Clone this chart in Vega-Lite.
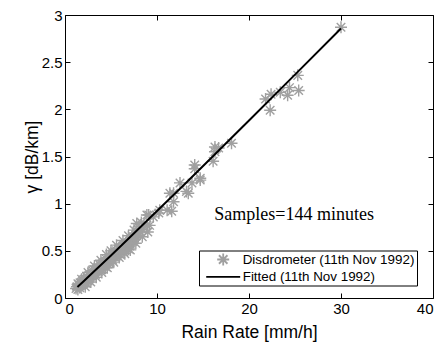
{
  "$schema": "https://vega.github.io/schema/vega-lite/v6.json",
  "width": 368,
  "height": 283,
  "autosize": {"type": "none"},
  "padding": {"left": 65, "top": 15, "right": 7, "bottom": 44},
  "background": "white",
  "config": {
    "view": {"stroke": null},
    "font": "Liberation Sans",
    "axis": {
      "grid": false,
      "domainColor": "#000000",
      "domainWidth": 1,
      "tickColor": "#000000",
      "tickSize": -5,
      "labelColor": "#000000",
      "labelFont": "Liberation Sans",
      "labelFontSize": 15,
      "titleFont": "Liberation Sans",
      "titleFontSize": 17.5,
      "titleFontWeight": "normal",
      "titleColor": "#000000"
    },
    "legend": {
      "title": null,
      "orient": "none",
      "legendX": 134,
      "legendY": 235.5,
      "padding": 2,
      "strokeColor": "#000000",
      "strokeWidth": 1,
      "fillColor": "#ffffff",
      "labelFont": "Liberation Sans",
      "labelFontSize": 13.4,
      "labelColor": "#000000",
      "labelLimit": 400,
      "symbolSize": 144,
      "symbolOffset": 15.2,
      "labelOffset": 12.5,
      "rowPadding": 0.4,
      "symbolStrokeWidth": 1.8
    }
  },
  "datasets": {
    "disdro": [
      {"R": 1.2, "g": 0.10}, {"R": 1.3, "g": 0.12}, {"R": 1.4, "g": 0.09}, {"R": 1.5, "g": 0.14},
      {"R": 1.6, "g": 0.11}, {"R": 1.7, "g": 0.16}, {"R": 1.8, "g": 0.13}, {"R": 1.9, "g": 0.18},
      {"R": 2.0, "g": 0.15}, {"R": 2.1, "g": 0.20}, {"R": 2.2, "g": 0.17}, {"R": 2.3, "g": 0.19},
      {"R": 2.4, "g": 0.22}, {"R": 2.5, "g": 0.18}, {"R": 2.6, "g": 0.24}, {"R": 2.7, "g": 0.21},
      {"R": 2.8, "g": 0.23}, {"R": 2.9, "g": 0.27}, {"R": 3.0, "g": 0.24}, {"R": 3.1, "g": 0.26},
      {"R": 3.2, "g": 0.30}, {"R": 3.3, "g": 0.25}, {"R": 3.4, "g": 0.29}, {"R": 3.5, "g": 0.32},
      {"R": 3.6, "g": 0.28}, {"R": 3.7, "g": 0.31}, {"R": 3.8, "g": 0.35}, {"R": 3.9, "g": 0.30},
      {"R": 4.0, "g": 0.33}, {"R": 4.1, "g": 0.37}, {"R": 4.2, "g": 0.34}, {"R": 4.3, "g": 0.38},
      {"R": 4.4, "g": 0.33}, {"R": 4.5, "g": 0.41}, {"R": 4.6, "g": 0.36}, {"R": 4.7, "g": 0.40},
      {"R": 4.8, "g": 0.43}, {"R": 4.9, "g": 0.38}, {"R": 5.0, "g": 0.42}, {"R": 5.1, "g": 0.46},
      {"R": 5.2, "g": 0.40}, {"R": 5.3, "g": 0.44}, {"R": 5.4, "g": 0.49}, {"R": 5.5, "g": 0.43},
      {"R": 5.7, "g": 0.47}, {"R": 5.8, "g": 0.52}, {"R": 6.0, "g": 0.46}, {"R": 6.1, "g": 0.50},
      {"R": 6.3, "g": 0.55}, {"R": 6.4, "g": 0.49}, {"R": 6.6, "g": 0.53}, {"R": 6.8, "g": 0.58},
      {"R": 6.9, "g": 0.52}, {"R": 7.1, "g": 0.57}, {"R": 7.2, "g": 0.61}, {"R": 7.4, "g": 0.60},
      {"R": 7.5, "g": 0.64}, {"R": 7.7, "g": 0.66}, {"R": 7.9, "g": 0.68}, {"R": 8.0, "g": 0.72},
      {"R": 8.2, "g": 0.70}, {"R": 7.8, "g": 0.79}, {"R": 8.9, "g": 0.77}, {"R": 8.9, "g": 0.88},
      {"R": 9.2, "g": 0.77}, {"R": 9.6, "g": 0.86}, {"R": 9.1, "g": 0.88}, {"R": 10.2, "g": 0.90},
      {"R": 10.3, "g": 0.93}, {"R": 11.1, "g": 0.93}, {"R": 11.6, "g": 0.92}, {"R": 11.8, "g": 1.02},
      {"R": 11.4, "g": 1.11}, {"R": 11.8, "g": 1.11}, {"R": 12.5, "g": 1.22}, {"R": 13.2, "g": 1.13},
      {"R": 13.4, "g": 1.11}, {"R": 13.8, "g": 1.22}, {"R": 14.1, "g": 1.37}, {"R": 14.1, "g": 1.41},
      {"R": 14.7, "g": 1.27}, {"R": 14.7, "g": 1.25}, {"R": 16.1, "g": 1.45}, {"R": 16.3, "g": 1.55},
      {"R": 16.3, "g": 1.60}, {"R": 16.7, "g": 1.59}, {"R": 18.1, "g": 1.64}, {"R": 21.8, "g": 2.11},
      {"R": 22.3, "g": 1.99}, {"R": 22.4, "g": 2.16}, {"R": 23.4, "g": 2.18}, {"R": 24.2, "g": 2.15},
      {"R": 24.4, "g": 2.23}, {"R": 25.4, "g": 2.20}, {"R": 25.3, "g": 2.36}, {"R": 30.0, "g": 2.87},
      {"R": 1.4, "g": 0.15}, {"R": 1.6, "g": 0.13}, {"R": 2.0, "g": 0.19}, {"R": 2.3, "g": 0.16},
      {"R": 2.6, "g": 0.20}, {"R": 3.0, "g": 0.29}, {"R": 3.3, "g": 0.28}, {"R": 3.6, "g": 0.33},
      {"R": 4.0, "g": 0.30}, {"R": 4.4, "g": 0.39}, {"R": 4.8, "g": 0.37}, {"R": 5.2, "g": 0.47},
      {"R": 5.6, "g": 0.50}, {"R": 6.2, "g": 0.52}, {"R": 6.6, "g": 0.58}, {"R": 7.0, "g": 0.55},
      {"R": 7.3, "g": 0.66}, {"R": 7.6, "g": 0.62}, {"R": 8.4, "g": 0.73}, {"R": 8.6, "g": 0.76},
      {"R": 1.8, "g": 0.20}, {"R": 2.5, "g": 0.27}, {"R": 3.2, "g": 0.34}, {"R": 3.9, "g": 0.40},
      {"R": 4.5, "g": 0.46}, {"R": 5.0, "g": 0.50}, {"R": 5.6, "g": 0.56}, {"R": 6.3, "g": 0.61},
      {"R": 6.9, "g": 0.66}, {"R": 7.5, "g": 0.72}, {"R": 8.3, "g": 0.80},
      {"R": 2.2, "g": 0.12}, {"R": 2.8, "g": 0.17}, {"R": 3.4, "g": 0.22}, {"R": 4.0, "g": 0.27},
      {"R": 4.6, "g": 0.32}, {"R": 5.3, "g": 0.38}, {"R": 5.9, "g": 0.43}, {"R": 6.5, "g": 0.47},
      {"R": 7.1, "g": 0.51}, {"R": 7.7, "g": 0.58}, {"R": 8.4, "g": 0.65}, {"R": 9.0, "g": 0.70}
    ],
    "fit": [
      {"R": 1.35, "g": 0.117}, {"R": 2, "g": 0.176}, {"R": 3, "g": 0.267}, {"R": 5, "g": 0.451},
      {"R": 7, "g": 0.638}, {"R": 10, "g": 0.922}, {"R": 13, "g": 1.205}, {"R": 16, "g": 1.495},
      {"R": 20, "g": 1.882}, {"R": 25, "g": 2.368}, {"R": 30, "g": 2.857}
    ]
  },
  "resolve": {"axis": {"x": "independent", "y": "independent"}},
  "layer": [
    {
      "data": {"name": "disdro"},
      "transform": [{"calculate": "'Disdrometer (11th Nov 1992)'", "as": "series"}],
      "mark": {"type": "point", "filled": false, "size": 144, "strokeWidth": 1.4, "opacity": 1},
      "encoding": {
        "x": {
          "field": "R", "type": "quantitative",
          "scale": {"domain": [0, 40], "nice": false},
          "axis": {"orient": "bottom", "values": [0, 10, 20, 30, 40], "title": "Rain Rate [mm/h]", "labelPadding": 8, "titlePadding": 7}
        },
        "y": {
          "field": "g", "type": "quantitative",
          "scale": {"domain": [0, 3], "nice": false},
          "axis": {"orient": "left", "values": [0, 0.5, 1, 1.5, 2, 2.5, 3], "format": "~g", "title": "γ [dB/km]", "labelPadding": 8, "titlePadding": 0}
        },
        "color": {
          "field": "series", "type": "nominal",
          "scale": {"domain": ["Disdrometer (11th Nov 1992)", "Fitted (11th Nov 1992)"], "range": ["#a0a0a0", "#000000"]}
        },
        "shape": {
          "field": "series", "type": "nominal",
          "scale": {
            "domain": ["Disdrometer (11th Nov 1992)", "Fitted (11th Nov 1992)"],
            "range": [
              "M-1,0L1,0M0,-1L0,1M-0.71,-0.71L0.71,0.71M-0.71,0.71L0.71,-0.71",
              "M-2.83,0L2.83,0"
            ]
          }
        }
      }
    },
    {
      "data": {"name": "fit"},
      "mark": {"type": "line", "color": "#000000", "strokeWidth": 2},
      "encoding": {
        "x": {
          "field": "R", "type": "quantitative",
          "axis": {"orient": "top", "values": [0, 10, 20, 30, 40], "labels": false, "title": null}
        },
        "y": {
          "field": "g", "type": "quantitative",
          "axis": {"orient": "right", "values": [0, 0.5, 1, 1.5, 2, 2.5, 3], "labels": false, "title": null}
        }
      }
    },
    {
      "data": {"values": [{}]},
      "mark": {"type": "text", "font": "Liberation Serif", "fontSize": 18, "color": "#000000", "align": "center", "baseline": "middle"},
      "encoding": {
        "x": {"datum": 24.9, "type": "quantitative", "axis": null},
        "y": {"datum": 0.88, "type": "quantitative", "axis": null},
        "text": {"value": "Samples=144 minutes"}
      }
    }
  ]
}
